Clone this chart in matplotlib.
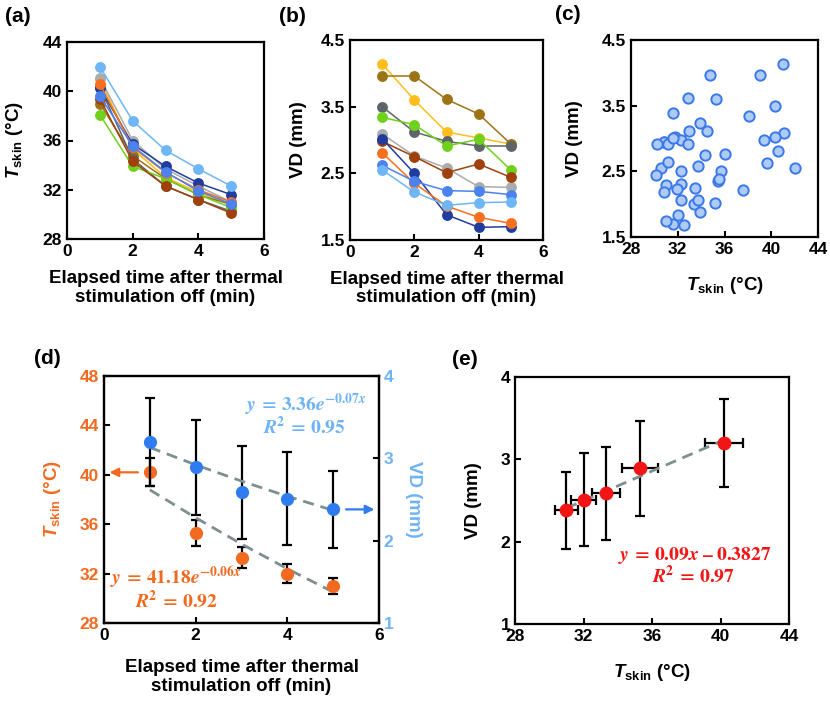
import matplotlib
matplotlib.use("Agg")
import matplotlib.pyplot as plt
from matplotlib.font_manager import FontProperties
import numpy as np

plt.rcParams['font.family'] = ['Liberation Sans', 'DejaVu Sans']
plt.rcParams['font.weight'] = 'bold'
plt.rcParams['axes.labelweight'] = 'bold'
plt.rcParams['font.size'] = 12
plt.rcParams['mathtext.fontset'] = 'custom'
plt.rcParams['mathtext.rm'] = 'Liberation Sans:bold'
plt.rcParams['mathtext.it'] = 'Liberation Sans:italic:bold'
plt.rcParams['mathtext.bf'] = 'Liberation Sans:bold'
plt.rcParams['axes.linewidth'] = 1.6

# ---- data ----
time_min = [1, 2, 3, 4, 5]

# skin temperature per subject (a), degC
tskin_subjects = [
    [41.0, 35.3, 33.0, 31.8, 30.8],
    [39.0, 34.75, 32.9, 31.6, 30.8],
    [40.35, 34.5, 32.3, 31.2, 30.25],
    [38.1, 33.9, 32.9, 31.6, 30.55],
    [41.1, 36.0, 33.7, 32.3, 31.0],
    [39.4, 34.3, 32.3, 31.2, 30.1],
    [40.3, 35.7, 33.9, 32.55, 31.6],
    [40.6, 35.45, 33.4, 32.0, 31.0],
    [39.6, 35.55, 33.45, 31.9, 30.85],
    [42.0, 37.6, 35.2, 33.7, 32.3],
]
# vessel diameter per subject (b), mm
vd_subjects = [
    [4.14, 3.60, 3.12, 3.03, 2.94],
    [3.96, 3.96, 3.61, 3.39, 2.94],
    [3.50, 3.12, 2.98, 2.91, 2.91],
    [3.34, 3.23, 2.91, 3.01, 2.55],
    [3.09, 2.76, 2.58, 2.30, 2.29],
    [2.98, 2.75, 2.51, 2.64, 2.44],
    [3.02, 2.50, 1.88, 1.69, 1.70],
    [2.81, 2.35, 2.01, 1.84, 1.75],
    [2.62, 2.38, 2.24, 2.23, 2.18],
    [2.55, 2.22, 2.02, 2.06, 2.07],
]
subject_colors = ['#FFBE1E', '#9C7415', '#5E6468', '#6FD11C', '#A8ACAC',
                  '#A0410D', '#1F3C9E', '#F8701E', '#4B82F0', '#6EB6F5']

# means and SD (d, e)
tskin_mean = [40.2, 35.3, 33.3, 32.0, 31.0]
tskin_sd = [1.13, 1.05, 0.83, 0.75, 0.65]
vd_mean = [3.20, 2.89, 2.59, 2.51, 2.38]
vd_sd = [0.53, 0.58, 0.565, 0.566, 0.47]

# fits
tskin_fit_a, tskin_fit_b, tskin_fit_r2 = 41.18, -0.06, 0.92
vd_fit_a, vd_fit_b, vd_fit_r2 = 3.36, -0.07, 0.95
lin_slope, lin_icpt, lin_r2 = 0.09, -0.3827, 0.97

ORANGE = '#F26A1F'
LBLUE = '#6DB3F5'
BLUE = '#2F7CF0'
RED = '#F21515'
FITGRAY = '#7D8F8F'

W, H = 830, 702
fig = plt.figure(figsize=(W / 100, H / 100), dpi=100)
TICKFONT = FontProperties(family='Liberation Sans', weight='bold', size=12.5)


def add_ax(l, t, r, b):
    return fig.add_axes([l / W, 1 - b / H, (r - l) / W, (b - t) / H])


def set_ticks(ax, xt, yt, yfmt='%g'):
    ax.set_xticks(xt, labels=['%g' % v for v in xt], fontproperties=TICKFONT)
    ax.set_yticks(yt, labels=[yfmt % v for v in yt], fontproperties=TICKFONT)
    ax.tick_params(direction='in', length=4, width=1.5)


def panel_label(txt, x, y):
    fig.text(x / W, 1 - y / H, txt, ha='center', va='center', fontsize=15, fontweight='bold')


def set_labels(ax, xlabel, xy, ylabel, yx):
    ax.set_xlabel(xlabel, fontsize=13.5, linespacing=1.15, fontweight='bold')
    ax.set_ylabel(ylabel, fontsize=13.5, fontweight='bold')
    ax.xaxis.label.set_va('center')
    ax.yaxis.label.set_va('center')
    ax.xaxis.set_label_coords(0.5, xy)
    ax.yaxis.set_label_coords(yx, 0.5)


def exp_eq(a, b):
    return (r'$\mathbfit{y}\,\mathbf{=}\,\mathbf{%.2f}\mathbfit{e}^{\mathbf{%.2f}\mathbfit{x}}$'
            % (a, b)).replace('{-', '{\u2212')


def r2_eq(r2):
    return r'$\mathbfit{R}^{\mathbf{2}}\,\mathbf{=}\,\mathbf{%.2f}$' % r2


TLABEL = r'$T_{\mathrm{skin}}$ (°C)'
ELAPSED = 'Elapsed time after thermal\nstimulation off (min)'

# ---- (a) ----
ax_a = add_ax(67, 42, 264, 239)
for ts, c in zip(tskin_subjects, subject_colors):
    ax_a.plot(time_min, ts, '-o', color=c, lw=1.1, ms=6.8)
ax_a.set_xlim(0, 6)
ax_a.set_ylim(28, 44)
set_ticks(ax_a, [0, 2, 4, 6], [28, 32, 36, 40, 44])
set_labels(ax_a, ELAPSED, -0.251, TLABEL, -0.264)
panel_label('(a)', 18, 16)

# ---- (b) ----
ax_b = add_ax(350, 40, 543, 240)
for vd, c in zip(vd_subjects, subject_colors):
    ax_b.plot(time_min, vd, '-o', color=c, lw=1.1, ms=6.8)
ax_b.set_xlim(0, 6)
ax_b.set_ylim(1.5, 4.5)
set_ticks(ax_b, [0, 2, 4, 6], [1.5, 2.5, 3.5, 4.5], '%.1f')
set_labels(ax_b, ELAPSED, -0.2425, 'VD (mm)', -0.269)
panel_label('(b)', 292, 16)

# ---- (c) ----
ax_c = add_ax(631, 40, 818, 237)
ax_c.scatter(np.ravel(tskin_subjects), np.ravel(vd_subjects), s=55,
             facecolor='#AECBF8', edgecolor='#3B78EA', linewidth=1.4, zorder=3)
ax_c.set_xlim(28, 44)
ax_c.set_ylim(1.5, 4.5)
set_ticks(ax_c, [28, 32, 36, 40, 44], [1.5, 2.5, 3.5, 4.5], '%.1f')
set_labels(ax_c, TLABEL, -0.244, 'VD (mm)', -0.30)
panel_label('(c)', 568, 15)

# ---- (d) ----
ax_d = add_ax(104, 376, 379, 623)
ax_d2 = ax_d.twinx()
t = np.array(time_min)
ax_d.errorbar(time_min, tskin_mean, yerr=tskin_sd, fmt='none', ecolor='black',
              elinewidth=1.6, capsize=3.5, capthick=1.6, zorder=2)
ax_d.plot(t, tskin_fit_a * np.exp(tskin_fit_b * t), '--', color=FITGRAY, lw=2,
          dashes=(4, 2.5), zorder=3)
ax_d.plot(time_min, tskin_mean, 'o', color=ORANGE, ms=8.5, zorder=4)
ax_d2.errorbar(time_min, vd_mean, yerr=vd_sd, fmt='none', ecolor='black',
               elinewidth=1.6, capsize=3.5, capthick=1.6, zorder=2)
ax_d2.plot(t, vd_fit_a * np.exp(vd_fit_b * t), '--', color=FITGRAY, lw=2,
           dashes=(4, 2.5), zorder=3)
ax_d2.plot(time_min, vd_mean, 'o', color=BLUE, ms=8.5, zorder=4)

ax_d.annotate('', xy=(0.06, tskin_mean[0]), xytext=(0.8, tskin_mean[0]),
              arrowprops=dict(arrowstyle='-|>', color=ORANGE, lw=1.6, mutation_scale=13))
ax_d2.annotate('', xy=(5.96, vd_mean[-1]), xytext=(5.22, vd_mean[-1]),
               arrowprops=dict(arrowstyle='-|>', color=BLUE, lw=1.6, mutation_scale=13))

ax_d.set_xlim(0, 6)
ax_d.set_ylim(28, 48)
ax_d2.set_ylim(1, 4)
set_ticks(ax_d, [0, 2, 4, 6], [28, 32, 36, 40, 44, 48])
set_ticks(ax_d2, [0, 2, 4, 6], [1, 2, 3, 4])
ax_d.tick_params(axis='y', labelcolor=ORANGE)
ax_d2.tick_params(axis='y', labelcolor=LBLUE)
set_labels(ax_d, ELAPSED, -0.22, TLABEL, -0.189)
ax_d.yaxis.label.set_color(ORANGE)
ax_d2.set_ylabel('VD (mm)', fontsize=13.5, color=LBLUE, rotation=-90, va='center',
                 fontweight='bold')
ax_d2.yaxis.set_label_coords(1.124, 0.5)

eq_kw = dict(fontsize=14, ha='center', va='center', math_fontfamily='stix')
ax_d.text(4.4, 45.65, exp_eq(vd_fit_a, vd_fit_b), color=LBLUE, **eq_kw)
ax_d.text(4.38, 43.85, r2_eq(vd_fit_r2), color=LBLUE, **eq_kw)
ax_d.text(1.56, 31.64, exp_eq(tskin_fit_a, tskin_fit_b), color=ORANGE, **eq_kw)
ax_d.text(1.58, 29.8, r2_eq(tskin_fit_r2), color=ORANGE, **eq_kw)
panel_label('(d)', 47, 359)

# ---- (e) ----
ax_e = add_ax(515, 377, 789, 624)
ax_e.errorbar(tskin_mean, vd_mean, xerr=tskin_sd, yerr=vd_sd, fmt='none', ecolor='black',
              elinewidth=1.6, capsize=3.5, capthick=1.6, zorder=2)
xl = np.array([min(tskin_mean), max(tskin_mean)])
ax_e.plot(xl, lin_slope * xl + lin_icpt, '--', color=FITGRAY, lw=2, dashes=(4, 2.5), zorder=3)
ax_e.plot(tskin_mean, vd_mean, 'o', color=RED, ms=9, zorder=4)
ax_e.set_xlim(28, 44)
ax_e.set_ylim(1, 4)
set_ticks(ax_e, [28, 32, 36, 40, 44], [1, 2, 3, 4])
set_labels(ax_e, TLABEL, -0.198, 'VD (mm)', -0.153)
ax_e.text(38.5, 1.837,
          r'$\mathbfit{y}\,\mathbf{=}\,\mathbf{%.2f}\mathbfit{x}\;\mathbf{\endash}\;\mathbf{%.4f}$'
          % (lin_slope, -lin_icpt), color=RED, **eq_kw)
ax_e.text(38.4, 1.586, r2_eq(lin_r2), color=RED, **eq_kw)
panel_label('(e)', 465, 360)

fig.savefig('out.png', dpi=100)
